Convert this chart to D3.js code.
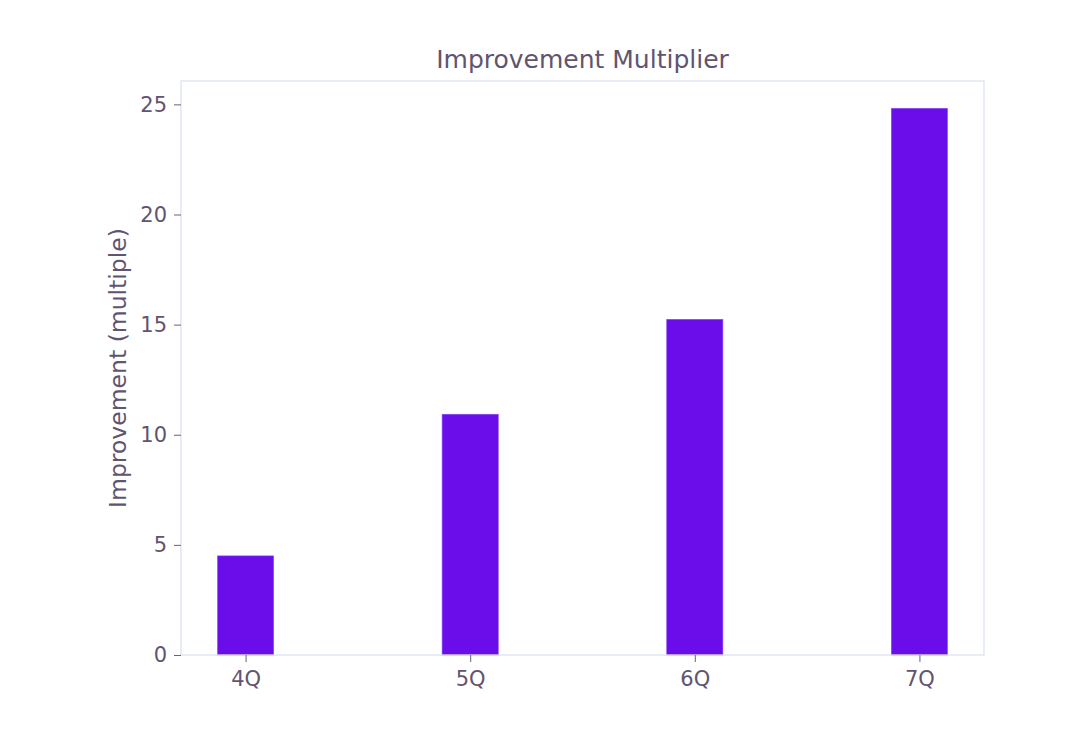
<!DOCTYPE html>
<html>
<head>
<meta charset="utf-8">
<script src="https://cdn.jsdelivr.net/npm/d3@7"></script>
<style>
  body { margin: 0; background: #fff; }
  text { font-family: "DejaVu Sans", sans-serif; fill: #615470; }
</style>
</head>
<body>
<svg></svg>
<script>
const CATEGORIES = ['4Q', '5Q', '6Q', '7Q'];
const VALUES = [4.5, 10.93, 15.24, 24.82];
const Y_TICKS = [0, 5, 10, 15, 20, 25];

const WIDTH = 1079, HEIGHT = 734;
const MARGIN = { top: 81, right: 95, bottom: 79, left: 181 };
const CHART_W = WIDTH - MARGIN.left - MARGIN.right;
const CHART_H = HEIGHT - MARGIN.top - MARGIN.bottom;
const BAR_WIDTH = 0.25;

const svg = d3.select('svg').attr('width', WIDTH).attr('height', HEIGHT);
const chart = svg.append('g').attr('transform', `translate(${MARGIN.left},${MARGIN.top})`);

// numeric x like matplotlib: index positions with 5% margins
const xMin = -BAR_WIDTH / 2, xMax = CATEGORIES.length - 1 + BAR_WIDTH / 2;
const xPad = (xMax - xMin) * 0.05;
const x = d3.scaleLinear().domain([xMin - xPad, xMax + xPad]).range([0, CHART_W]);
const y = d3.scaleLinear().domain([0, d3.max(VALUES) * 1.05]).range([CHART_H, 0]);

chart.selectAll('.bar')
  .data(VALUES)
  .enter()
  .append('rect')
  .classed('bar', true)
  .attr('x', (d, i) => x(i - BAR_WIDTH / 2))
  .attr('width', x(BAR_WIDTH) - x(0))
  .attr('y', d => y(d))
  .attr('height', d => CHART_H - y(d))
  .attr('fill', '#6a0dea')
  .attr('stroke', '#8a4af0')
  .attr('stroke-width', 0.6);

// frame
chart.append('rect')
  .attr('width', CHART_W).attr('height', CHART_H)
  .attr('fill', 'none').attr('stroke', '#dce2ef').attr('stroke-width', 1.3);

const yAxis = chart.append('g')
  .call(d3.axisLeft(y).tickValues(Y_TICKS).tickSize(7).tickPadding(7));
const xAxis = chart.append('g')
  .attr('transform', `translate(0,${CHART_H})`)
  .call(d3.axisBottom(x).tickValues(d3.range(CATEGORIES.length)).tickFormat(i => CATEGORIES[i]).tickSize(7).tickPadding(9));

[xAxis, yAxis].forEach(a => {
  a.select('.domain').remove();
  a.selectAll('.tick line').attr('stroke', '#6b6178').attr('stroke-width', 1);
  a.selectAll('.tick text').attr('font-size', 21).style('fill', '#615470');
});

svg.append('text')
  .attr('x', MARGIN.left + CHART_W / 2)
  .attr('y', 68)
  .attr('text-anchor', 'middle')
  .attr('font-size', 25)
  .text('Improvement Multiplier');

svg.append('text')
  .attr('transform', `translate(126,${MARGIN.top + CHART_H / 2}) rotate(-90)`)
  .attr('text-anchor', 'middle')
  .attr('font-size', 23.5)
  .text('Improvement (multiple)');
</script>
</body>
</html>
